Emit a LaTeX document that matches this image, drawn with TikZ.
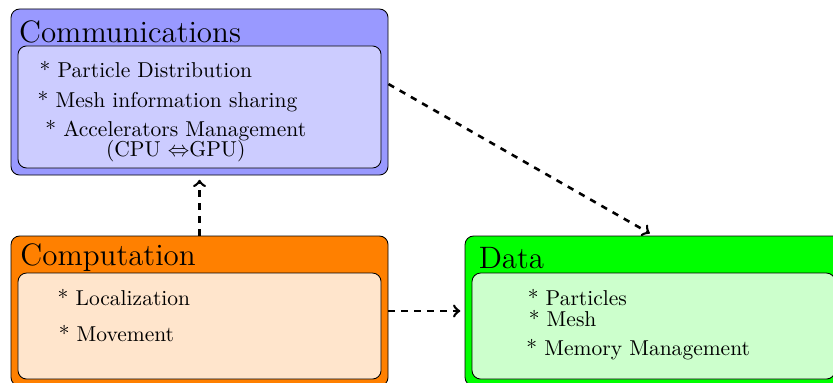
\documentclass[tikz,border=0pt]{standalone}
\usepackage{amssymb}
\usetikzlibrary{arrows}

\begin{document}
\begin{tikzpicture}[
    outerbox/.style={draw,rounded corners=4pt,minimum width=6.16cm,inner sep=0pt},
    innerbox/.style={draw,rounded corners=4pt,minimum width=5.932cm,inner sep=0pt},
    ttl/.style={anchor=base west,inner sep=0pt,font=\Large},
    item/.style={anchor=base west,inner sep=0pt},
    flow/.style={->,>=to,very thick,dashed,shorten >=2pt}]
    \useasboundingbox (0,0) rectangle (13.61,6.242);
    \clip (0,0) rectangle (13.61,6.242);

    % communications
    \node[outerbox,fill=blue!40,minimum height=2.713cm] (comm) at (3.26,4.7385) {};
    \node[innerbox,fill=blue!20,minimum height=1.994cm] (commin) at (3.26,4.494) {};
    \node[ttl] (commtitle) at (0.306,5.544) {Communications};
    \node[item] (distrib) at (0.642,4.979) {* Particle Distribution};
    \node[item] (meshinfo) at (0.609,4.482) {* Mesh information sharing};
    % base of a two-line node is its last line
    \node[item,align=center] (accel) at (0.735,3.693)
        {* Accelerators Management\\[-2.7pt](CPU $\Leftrightarrow$GPU)};

    % computation
    \node[outerbox,fill=orange,minimum height=2.451cm] (comp) at (3.26,1.1605) {};
    \node[innerbox,fill=orange!20,minimum height=1.732cm] (compin) at (3.26,0.915) {};
    \node[ttl] (comptitle) at (0.327,1.900) {Computation};
    \node[item] (local) at (0.936,1.258) {* Localization};
    \node[item] (move) at (0.953,0.659) {* Movement};

    % data
    \node[outerbox,fill=green,minimum height=2.451cm] (data) at (10.678,1.1605) {};
    \node[innerbox,fill=green!20,minimum height=1.732cm] (datain) at (10.678,0.915) {};
    \node[ttl] (datatitle) at (7.816,1.858) {Data};
    \node[item] (parts) at (8.616,1.258) {* Particles};
    \node[item] (mesh) at (8.633,0.904) {* Mesh};
    \node[item] (memory) at (8.595,0.441) {* Memory Management};

    \draw[flow] (comp.north) -- (comm.south);
    \draw[flow] (comp.east) -- (data.west);
    \draw[flow] ([yshift=0.13cm]comm.east) -- (data.north);
\end{tikzpicture}
\end{document}
